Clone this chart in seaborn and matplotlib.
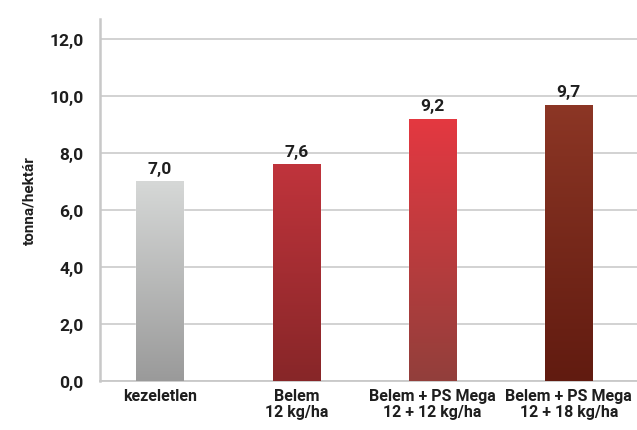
import numpy as np
import pandas as pd
import seaborn as sns
from matplotlib import pyplot as plt
import matplotlib.ticker as mtick
from matplotlib.colors import LinearSegmentedColormap

categories = ['kezeletlen', 'Belem\n12 kg/ha', 'Belem + PS Mega\n12 + 12 kg/ha', 'Belem + PS Mega\n12 + 18 kg/ha']
yields = [7.0, 7.6, 9.2, 9.7]
y_ticks = [0, 2, 4, 6, 8, 10, 12]

# bar gradients, top colour -> bottom colour
top_colors = ['#d6d8d7', '#c0343c', '#e43841', '#8c3625']
bottom_colors = ['#9a9a9a', '#872628', '#923f3b', '#611b10']

sns.set_style('white')
plt.rcParams['font.family'] = ['Roboto', 'DejaVu Sans']

df = pd.DataFrame({'cat': categories, 'val': yields})

fig = plt.figure(figsize=(6.37, 4.31), dpi=100)
ax = fig.add_axes([100 / 637, 1 - 382 / 431, 537 / 637, 362 / 431])

sns.barplot(data=df, x='cat', y='val', ax=ax, width=0.345, color='#999999', saturation=1)

ax.set_yticks(y_ticks)
ax.yaxis.set_major_formatter(mtick.FuncFormatter(lambda v, p: f'{v:.1f}'.replace('.', ',')))
ax.grid(axis='y', color='#cfcfcf', linewidth=1.3)
ax.set_axisbelow(True)

for s in ['top', 'right']:
    ax.spines[s].set_visible(False)
ax.spines['left'].set_color('#c8c8c8')
ax.spines['left'].set_linewidth(1.8)
ax.spines['bottom'].set_color('#c8c8c8')
ax.spines['bottom'].set_linewidth(1.3)

ax.tick_params(axis='y', length=5, width=1.3, color='#c8c8c8', labelsize=12.5, pad=7, labelcolor='#1e1e1e')
ax.tick_params(axis='x', length=0, labelsize=11.5, pad=5, labelcolor='#1e1e1e')
for lbl in ax.get_xticklabels() + ax.get_yticklabels():
    lbl.set_fontweight('bold')
    lbl.set_linespacing(1.1)

ax.set_xlabel('')
ax.set_ylabel('tonna/hektár', fontsize=11, fontweight='bold', color='#1e1e1e', labelpad=9)

grad = np.linspace(0, 1, 256).reshape(-1, 1)
for i, bar in enumerate(ax.patches):
    x0, w, h = bar.get_x(), bar.get_width(), bar.get_height()
    cmap = LinearSegmentedColormap.from_list(f'g{i}', [bottom_colors[i], top_colors[i]])
    im = ax.imshow(grad, cmap=cmap, aspect='auto', origin='lower',
                   extent=[x0, x0 + w, 0, h], zorder=3)
    im.set_clip_path(bar)
    bar.set_facecolor('none')
    ax.text(x0 + w / 2, h + 0.2, f'{yields[i]:.1f}'.replace('.', ','),
            ha='center', va='bottom', fontsize=12.5, fontweight='bold', color='#1e1e1e')

ax.set_xlim(-0.44, 3.5)
ax.set_ylim(0, 12.7)

fig.savefig('out.png', dpi=100)
